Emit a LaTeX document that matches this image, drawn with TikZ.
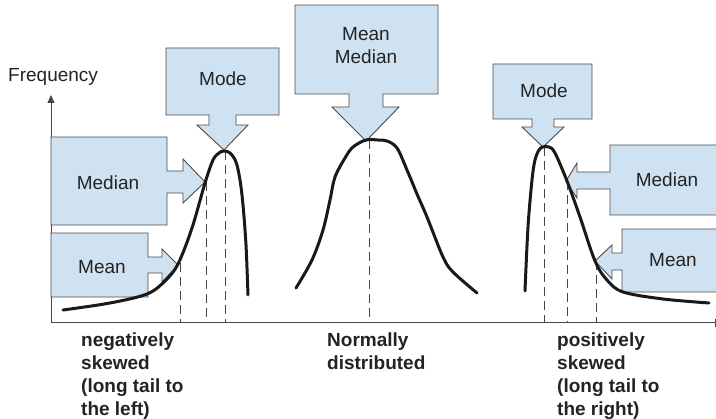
\documentclass[tikz,border=0pt]{standalone}
\usepackage{fontspec}
\setmainfont{Liberation Sans}
\usetikzlibrary{arrows.meta,calc}
\definecolor{boxfill}{RGB}{207,226,242}
\definecolor{boxline}{RGB}{75,75,75}
\definecolor{axisgray}{RGB}{70,70,70}
\definecolor{txt}{RGB}{35,35,35}
\begin{document}
\begin{tikzpicture}[x=1pt,y=-1pt,
  callout/.style={draw=boxline, fill=boxfill, line width=0.9pt, line join=miter},
  lbl/.style={font=\fontsize{19}{23}\selectfont, inner sep=0pt, align=center, text=txt},
  caption/.style={font=\fontsize{19}{23}\selectfont\bfseries, inner sep=0pt, align=left, anchor=north west, text=txt},
  curve/.style={line width=3pt, line cap=round, line join=round, draw=black!90},
  guide/.style={line width=0.9pt, dash pattern=on 9pt off 5pt, draw=axisgray},
  axis/.style={line width=1pt, draw=axisgray}]
\useasboundingbox (0,0) rectangle (716,419);

% axes
\coordinate (O) at (51,323);
\coordinate (Ytop) at (51,95);
\coordinate (Xend) at (715,323);
\draw[axis,-{Triangle[width=7pt,length=8pt]}] (O) -- (Ytop);
\draw[axis] (O) -- (Xend);
\draw[axis] ($(Xend)+(0,-4)$) -- ($(Xend)+(0,4)$);
\node[lbl, anchor=base west] (freq) at (8,82) {Frequency};

% dashed guides
\foreach \x/\y in {180/263, 206/182, 225/151, 369/140, 544/147, 567/181, 596/261}
  \draw[guide] (\x,\y) -- (\x,323);

% left callouts
\draw[callout] (166,48) -- (279,48) -- (279,115) -- (236,115) -- (236,125) -- (248,125)
  -- (224,150) -- (197,125) -- (209,125) -- (209,115) -- (166,115) -- cycle;
\node[lbl] (modeL) at (223,79) {Mode};
\draw[callout] (51,137) -- (167,137) -- (167,171) -- (183,171) -- (183,159) -- (205,182)
  -- (183,203) -- (183,193) -- (167,193) -- (167,225) -- (51,225) -- cycle;
\node[lbl] (medianL) at (108,183) {Median};
\draw[callout] (51,233) -- (148,233) -- (148,257) -- (162,257) -- (162,249) -- (178,265)
  -- (162,282) -- (162,273) -- (148,273) -- (148,297) -- (51,297) -- cycle;
\node[lbl] (meanL) at (102,267) {Mean};

% middle callout
\draw[callout] (295,5) -- (438,5) -- (438,94) -- (383,94) -- (383,107) -- (399,107)
  -- (366,141) -- (332,107) -- (349,107) -- (349,94) -- (295,94) -- cycle;
\node[lbl] (meanmedian) at (366,46) {Mean\\Median};

% right callouts
\draw[callout] (493,64) -- (592,64) -- (592,119) -- (554,119) -- (554,127) -- (564,127)
  -- (543,147) -- (522,127) -- (532,127) -- (532,119) -- (493,119) -- cycle;
\node[lbl] (modeR) at (544,91) {Mode};
\draw[callout] (725,145) -- (610,145) -- (610,172) -- (577,172) -- (577,163) -- (566,181)
  -- (577,198) -- (577,189) -- (610,189) -- (610,215) -- (725,215);
\node[lbl] (medianR) at (667,180) {Median};
\draw[callout] (725,229) -- (622,229) -- (622,253) -- (612,253) -- (612,245) -- (595,261)
  -- (612,279) -- (612,270) -- (622,270) -- (622,292) -- (725,292);
\node[lbl] (meanR) at (673,260) {Mean};

% curves
\draw[curve] plot[smooth, tension=0.55] coordinates {
  (63,310) (110,303) (147,294) (165,281) (178,264) (192,228) (205,183) (213,160)
  (219,153) (224,151) (230,153) (236,162) (240,180) (243,205) (246,245) (248,295)};
\draw[curve] plot[smooth, tension=0.55] coordinates {
  (296,288) (312,260) (323,230) (330,200) (335,177) (345,158) (353,147) (366,140)
  (378,140) (387,141) (397,148) (407,170) (417,194) (427,217) (443,257) (453,272) (477,293)};
\draw[curve] plot[smooth, tension=0.55] coordinates {
  (525,291) (528,227) (532,180) (535,160) (539,150) (543,147) (549,147) (555,153)
  (567,181) (580,217) (595,261) (607,280) (623,292) (663,299) (709,303)};

% captions
\node[caption] (neg) at (81,333) {negatively\\skewed\\(long tail to\\the left)};
\node[caption] (norm) at (327,333) {Normally\\distributed};
\node[caption] (pos) at (557,333) {positively\\skewed\\(long tail to\\the right)};
\end{tikzpicture}
\end{document}
